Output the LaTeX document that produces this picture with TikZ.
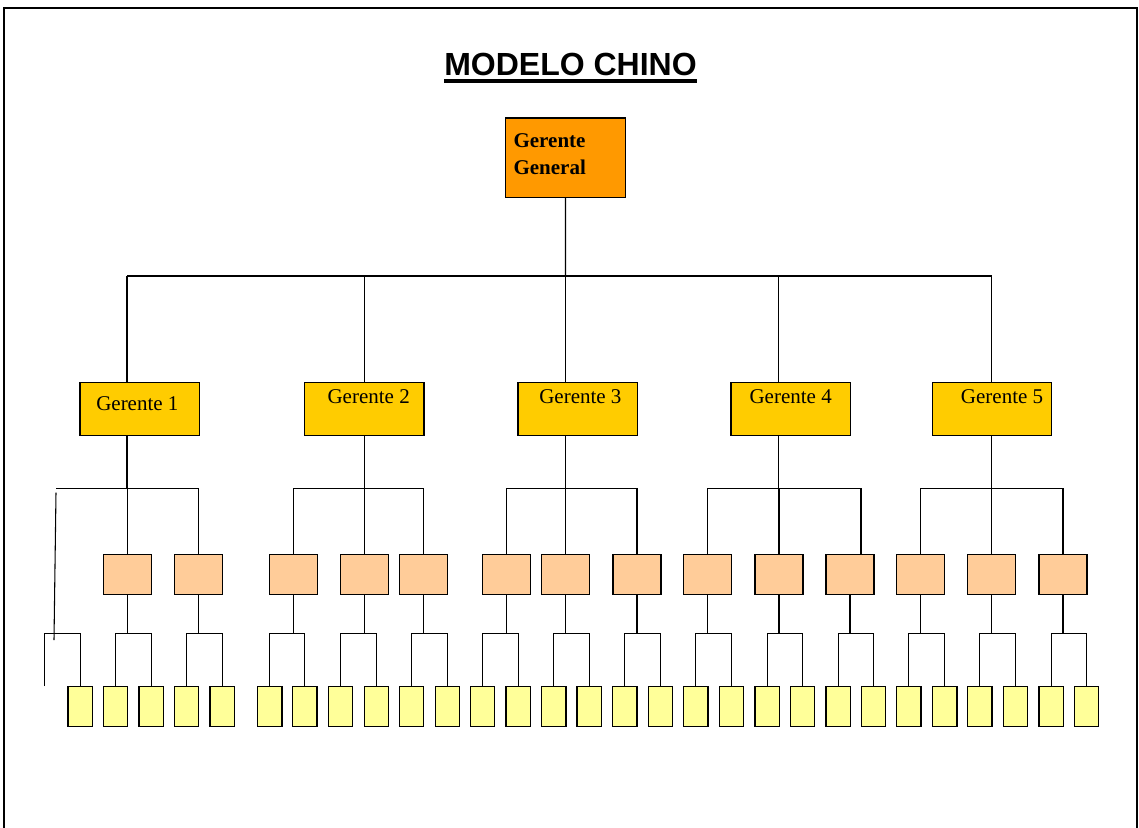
\documentclass[tikz,border=0pt]{standalone}
\usepackage{fontspec}
\setmainfont{Liberation Serif}
\newfontfamily\titlefont{Liberation Sans}
\definecolor{ggc}{HTML}{FF9900}
\definecolor{gc}{HTML}{FFCC00}
\definecolor{oc}{HTML}{FFCC99}
\definecolor{yc}{HTML}{FFFF99}
\begin{document}
\begin{tikzpicture}[x=0.75pt,y=-0.75pt,
  box/.style={draw=black, line width=1pt, inner sep=0pt, outer sep=0pt, anchor=north west},
  ggbox/.style={box, fill=ggc, minimum width=89.7pt, minimum height=59.8pt},
  gbox/.style={box, fill=gc, minimum width=89.5pt, minimum height=40.1pt},
  obox/.style={box, fill=oc, minimum width=36pt, minimum height=30pt},
  ybox/.style={box, fill=yc, minimum width=18.3pt, minimum height=30pt},
  conn/.style={line width=0.8pt},
  lbl/.style={anchor=base west, inner sep=0pt, font=\fontsize{15.75}{19}\selectfont},
  lblb/.style={lbl, font=\bfseries\fontsize{15.75}{19}\selectfont}]
\useasboundingbox (0,0) rectangle (1139,828);
% frame
\draw[line width=1.5pt] (3.5,828) -- (3.5,7.5) -- (1136.5,7.5) -- (1136.5,828);
% title
\node[anchor=base, inner sep=0pt, font=\titlefont\bfseries\fontsize{24}{28}\selectfont] (title) at (570.5,75.7)
  {\setbox0\hbox{MODELO CHINO}\rlap{\rule[-5.2pt]{\wd0}{2.5pt}}\box0};
% general manager
\node[ggbox] (gg) at (505.7,118) {};
\node[lblb] (ggt1) at (513.3,147.3) {Gerente};
\node[lblb] (ggt2) at (513.3,174) {General};
% managers
\node[gbox] (g1) at (80,382.3) {};
\node[gbox] (g2) at (304.7,382.3) {};
\node[gbox] (g3) at (518,382.3) {};
\node[gbox] (g4) at (731,382.3) {};
\node[gbox] (g5) at (932.3,382.3) {};
\node[lbl] (g1t) at (96,410.7) {Gerente 1};
\node[lbl] (g2t) at (327.3,403.3) {Gerente 2};
\node[lbl] (g3t) at (539,403.3) {Gerente 3};
\node[lbl] (g4t) at (749.3,403.3) {Gerente 4};
\node[lbl] (g5t) at (960.7,403.3) {Gerente 5};
% orange boxes
\foreach \x [count=\i] in {103.3,174.3,269.3,340.3,399.3,482.3,541.7,613,683.7,755,826,896.7,967.3,1039}
  \node[obox] (o\i) at (\x,554.3) {};
% yellow boxes
\foreach \x [count=\i] in {68,103.3,139,174.3,210,257.7,292.7,328.3,364.3,399.3,435.3,470.3,506,541.7,577,612.7,648.3,683.7,719.3,755,790.3,826,861.3,896.7,932.7,967.7,1003.3,1039,1074.3}
  \node[ybox] (y\i) at (\x,686.7) {};
% coordinates
\coordinate (t1) at (127,276);
\coordinate (t2) at (364.3,276);
\coordinate (t3) at (565.5,276);
\coordinate (t4) at (778.3,276);
\coordinate (t5) at (991.7,276);
\coordinate (m1) at (127,488.3);
\coordinate (m2) at (364.3,488.3);
\coordinate (m3) at (565.5,488.3);
\coordinate (m4) at (778.3,488.3);
\coordinate (m5) at (991.7,488.3);
\coordinate (b1) at (56,488.3);
\coordinate (q11) at (861,488.3);
\coordinate (yb) at (0,633.7);
\coordinate (s1) at (56,492.7);
\coordinate (s2) at (54,640);
\coordinate (k1) at (44.3,633.7);
\coordinate (k2) at (44.3,686);
% top level
\draw[conn] (gg.south) -- (t3);
\draw[conn] (t1) -- (t5);
\foreach \i in {1,...,5} {
  \draw[conn] (t\i) -- (t\i |- g\i.north);
  \draw[conn] (t\i |- g\i.south) -- (m\i);
}
% second-level buses
\draw[conn] (b1) -- (o2.north |- m1);
\draw[conn] (o3.north |- m2) -- (o5.north |- m2);
\draw[conn] (o6.north |- m3) -- (o8.north |- m3);
\draw[conn] (o9.north |- m4) -- (q11);
\draw[conn] (o12.north |- m5) -- (o14.north |- m5);
\foreach \i in {1,2,3,4,5,6,7,8,9,10,12,13,14}
  \draw[conn] (o\i.north |- m1) -- (o\i.north);
\draw[conn] (q11) -- (q11 |- o11.north);
% brackets under orange boxes
\foreach \i [evaluate=\i as \a using int(2*\i), evaluate=\i as \b using int(2*\i+1)] in {1,...,14} {
  \draw[conn] (o\i.south) -- (o\i.south |- yb);
  \draw[conn] (y\a.north) -- (y\a.north |- yb) -- (y\b.north |- yb) -- (y\b.north);
}
% stray lines at the left
\draw[conn] (s1) -- (s2);
\draw[conn] (k2) -- (k1) -- (y1.north |- k1) -- (y1.north);
\end{tikzpicture}
\end{document}
